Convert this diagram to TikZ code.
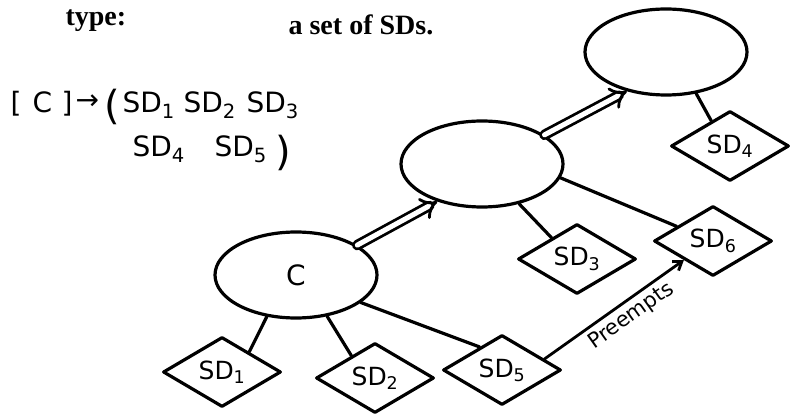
\documentclass[tikz,border=0pt]{standalone}
\usepackage{fontspec}
\setmainfont{Liberation Serif}
\newfontfamily\hand{DejaVu Sans}
\usetikzlibrary{shapes.geometric,arrows.meta,calc}
\begin{document}
\begin{tikzpicture}[x=1pt,y=-1pt,
  line width=3.2pt, line cap=round, line join=round,
  concept/.style={draw, ellipse, minimum width=162pt, minimum height=86pt, inner sep=0pt, font=\hand\fontsize{28}{28}\selectfont},
  sd/.style={draw, diamond, minimum width=118pt, minimum height=70pt, inner sep=0pt, font=\hand\fontsize{25}{25}\selectfont},
  link/.style={line width=3.2pt},
  spec/.style={double, double distance=5pt, line width=2.8pt, -{Implies}},
  pre/.style={line width=2.8pt, -{Straight Barb[length=8pt,width=11pt,line width=2.8pt]}},
  title/.style={font=\bfseries\fontsize{28}{28}\selectfont, anchor=base west, inner sep=0pt},
  hw/.style={font=\hand\fontsize{28}{28}\selectfont, anchor=base west, inner sep=0pt},
  paren/.style={font=\hand\fontsize{40}{40}\selectfont, anchor=base west, inner sep=0pt}]

\useasboundingbox (0,0) rectangle (798,414);

% titles
\node[title] (ttype) at (64,26) {type:};
\node[title] (tset) at (287,35) {a set of SDs.};

% handwritten formula
\node[hw] (f1a) at (9,113) {[};
\node[hw] (f1b) at (31,113) {C};
\node[hw] (f1c) at (60,113) {]};
\node[hw] (f2) at (74,110) {→};
\node[paren] (f3) at (103,120) {(};
\node[hw] (f4) at (121,113) {SD\textsubscript{1}};
\node[hw] (f5) at (182,113) {SD\textsubscript{2}};
\node[hw] (f6) at (245,113) {SD\textsubscript{3}};
\node[hw] (f7) at (131,157) {SD\textsubscript{4}};
\node[hw] (f8) at (213,157) {SD\textsubscript{5}};
\node[paren] (f9) at (274,166) {)};

% concepts
\node[concept] (T) at (666,52) {};
\node[concept] (M) at (482,164) {};
\node[concept] (C) at (296,275) {C};

% structural descriptions
\node[sd] (SD1) at (222,372) {SD\textsubscript{1}};
\node[sd] (SD2) at (375,378) {SD\textsubscript{2}};
\node[sd] (SD5) at (502,370) {SD\textsubscript{5}};
\node[sd] (SD3) at (577,259) {SD\textsubscript{3}};
\node[sd] (SD6) at (713,241) {SD\textsubscript{6}};
\node[sd] (SD4) at (730,146) {SD\textsubscript{4}};

% links
\draw[link] (C.235) -- ($(SD1.north)!0.45!(SD1.east)$);
\draw[link] (C.307) -- ($(SD2.north)!0.39!(SD2.west)$);
\draw[link] (C.337) -- ($(SD5.north)!0.37!(SD5.west)$);
\draw[link] (M.313) -- ($(SD3.north)!0.42!(SD3.west)$);
\draw[link] (M.350) -- ($(SD6.north)!0.6!(SD6.west)$);
\draw[link] (T.306) -- ($(SD4.north)!0.31!(SD4.west)$);

% specialization arrows
\draw[spec] (C.26) -- (M.220);
\draw[spec] (M.25) -- (T.225);

% preempts
\draw[pre] ($(SD5.north)!0.7!(SD5.east)$) -- node[below, sloped, pos=0.56, inner sep=4pt, font=\hand\fontsize{21}{21}\selectfont] (lbl) {Preempts} ($(SD6.west)!0.52!(SD6.south)$);
\end{tikzpicture}
\end{document}
